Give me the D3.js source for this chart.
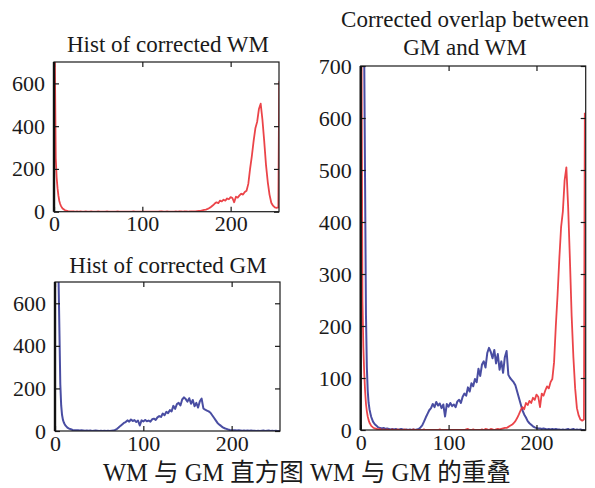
<!DOCTYPE html>
<html>
<head>
<meta charset="utf-8">
<script src="https://cdn.jsdelivr.net/npm/d3@7/dist/d3.min.js"></script>
<style>
  html, body { margin: 0; padding: 0; background: #fff; }
  svg { display: block; }
  text { font-family: "Liberation Serif", "Times New Roman", "Noto Sans CJK SC", serif; fill: #1a1a1a; }
</style>
</head>
<body>
<svg id="chart" width="595" height="488"></svg>
<script>
// Intensity levels (grey value) of the histogram bins
const levels = [
  0, 1, 2, 3, 4, 5, 6, 7, 8, 9, 10, 11, 12,
  14, 16, 18, 20, 22, 24, 26, 28, 30, 32,
  34, 36, 38, 40, 42, 44, 46, 48, 50, 52,
  54, 56, 58, 60, 62, 64, 66, 68, 70, 72,
  74, 76, 78, 80, 82, 84, 86, 88, 90, 92,
  94, 96, 98, 100, 102, 104, 106, 108, 110, 112,
  114, 116, 118, 120, 122, 124, 126, 128, 130, 132,
  134, 136, 138, 140, 142, 144, 146, 148, 150, 152,
  154, 156, 158, 160, 162, 164, 166, 168, 170, 172,
  174, 176, 178, 180, 182, 184, 186, 188, 190, 192,
  194, 196, 198, 200, 202, 204, 206, 208, 210, 212,
  214, 216, 218, 220, 222, 224, 226, 228, 230, 232,
  234, 236, 238, 240, 242, 244, 246, 248, 250, 252,
  254, 255
];

// White matter voxel counts per level
const wmCounts = [
  1500, 700, 250, 160, 110, 75, 50, 36, 26, 19, 14, 11, 8,
  5, 3, 2, 1, 2, 0, 1, 0, 1, 0,
  0, 1, 0, 0, 1, 0, 0, 0, 1, 0,
  0, 0, 0, 1, 0, 0, 0, 0, 0, 1,
  0, 0, 0, 0, 0, 0, 0, 0, 1, 0,
  0, 0, 0, 0, 0, 0, 0, 0, 0, 0,
  0, 0, 0, 1, 2, 0, 0, 1, 0, 0,
  0, 0, 1, 0, 2, 1, 0, 2, 1, 0,
  1, 2, 1, 2, 3, 4, 4, 6, 8, 10,
  13, 17, 23, 30, 38, 44, 40, 52, 48, 56,
  52, 62, 58, 68, 64, 44, 70, 66, 76, 84,
  80, 92, 98, 130, 200, 260, 330, 390, 420, 480,
  505, 430, 330, 220, 140, 80, 42, 28, 20, 18,
  20, 610
];

// Grey matter voxel counts per level
const gmCounts = [
  2400, 1800, 1300, 950, 720, 470, 220, 120, 75, 52, 40, 32, 25,
  16, 11, 8, 5, 4, 3, 4, 2, 3, 2,
  1, 2, 1, 2, 0, 1, 2, 1, 0, 1,
  0, 1, 0, 1, 0, 1, 2, 5, 9, 16,
  24, 31, 38, 42, 50, 44, 54, 47, 51, 42,
  49, 26, 50, 45, 52, 46, 49, 44, 55, 58,
  52, 64, 70, 66, 82, 74, 90, 84, 98, 92,
  118, 104, 126, 132, 120, 148, 158, 150, 138, 154,
  128, 146, 116, 132, 110, 140, 152, 106, 100, 96,
  92, 86, 74, 62, 50, 38, 30, 24, 17, 13,
  10, 7, 5, 4, 3, 3, 2, 3, 2, 1,
  2, 1, 2, 1, 2, 1, 1, 0, 1, 0,
  1, 2, 0, 1, 2, 0, 1, 0, 1, 0,
  0, 0
];

const xTicks = [0, 100, 200];
const yTicksSmall = [0, 200, 400, 600];
const yTicksLarge = [0, 100, 200, 300, 400, 500, 600, 700];

const titleWM = "Hist of corrected WM";
const titleGM = "Hist of corrected GM";
const titleOverlap = ["Corrected overlap between", "GM and WM"];
const caption = "WM 与 GM 直方图 WM 与 GM 的重叠";

const RED = "#e9343a";
const BLUE = "#3a3e9a";

const svg = d3.select("#chart");
const wm = levels.map((l, i) => ({ level: l, count: wmCounts[i] }));
const gm = levels.map((l, i) => ({ level: l, count: gmCounts[i] }));

let clipId = 0;
function drawPanel(cfg) {
  const x = d3.scaleLinear().domain(cfg.xDomain).range([cfg.left, cfg.right]);
  const y = d3.scaleLinear().domain([0, 700]).range([cfg.bottom, cfg.top]);
  const id = "clip" + (clipId++);
  svg.append("clipPath").attr("id", id)
    .append("rect")
    .attr("x", cfg.left).attr("y", cfg.top)
    .attr("width", cfg.right - cfg.left).attr("height", cfg.bottom - cfg.top);

  const line = d3.line().x(d => x(d.level)).y(d => y(d.count));
  const g = svg.append("g").attr("clip-path", `url(#${id})`);
  cfg.series.forEach(s => {
    g.append("path")
      .datum(s.data)
      .attr("d", line)
      .attr("fill", "none")
      .attr("stroke", s.color)
      .attr("stroke-width", s.width)
      .attr("stroke-linejoin", "round")
      .attr("stroke-opacity", 0.92);
  });

  const tickStyle = sel => {
    sel.attr("font-family", null).attr("font-size", null);
    sel.select(".domain").remove();
    sel.selectAll(".tick line").attr("stroke", "#1a1a1a").attr("stroke-width", 1.2);
    sel.selectAll(".tick text").attr("font-size", 22).attr("fill", "#1a1a1a");
  };

  svg.append("g").attr("transform", `translate(0,${cfg.bottom})`)
    .call(d3.axisBottom(x).tickValues(xTicks).tickSize(-5).tickPadding(4).tickFormat(d3.format("d")))
    .call(tickStyle);
  svg.append("g").attr("transform", `translate(0,${cfg.top})`)
    .call(d3.axisTop(x).tickValues(xTicks).tickSize(-5).tickFormat(""))
    .call(tickStyle);
  svg.append("g").attr("transform", `translate(${cfg.left},0)`)
    .call(d3.axisLeft(y).tickValues(cfg.yTicks).tickSize(-5).tickPadding(9).tickFormat(d3.format("d")))
    .call(tickStyle);
  svg.append("g").attr("transform", `translate(${cfg.right},0)`)
    .call(d3.axisRight(y).tickValues(cfg.yTicks).tickSize(-5).tickFormat(""))
    .call(tickStyle);

  svg.append("rect")
    .attr("x", cfg.left).attr("y", cfg.top)
    .attr("width", cfg.right - cfg.left).attr("height", cfg.bottom - cfg.top)
    .attr("fill", "none").attr("stroke", "#1a1a1a").attr("stroke-width", 1.2);
  svg.append("line")
    .attr("x1", cfg.left).attr("x2", cfg.left)
    .attr("y1", cfg.top).attr("y2", cfg.bottom)
    .attr("stroke", "#111").attr("stroke-width", 2.4);

  cfg.title.forEach((t, i) => {
    svg.append("text")
      .attr("x", cfg.titleX).attr("y", cfg.titleY + i * 28)
      .attr("text-anchor", "middle")
      .attr("font-size", 23)
      .text(t);
  });
}

drawPanel({
  left: 54, right: 279, top: 62, bottom: 211.7,
  xDomain: [0, 254.75], yTicks: yTicksSmall,
  series: [{ data: wm, color: RED, width: 1.8 }],
  title: [titleWM], titleX: 168, titleY: 52
});

drawPanel({
  left: 55, right: 280, top: 282, bottom: 431,
  xDomain: [0, 254.75], yTicks: yTicksSmall,
  series: [{ data: gm, color: BLUE, width: 2 }],
  title: [titleGM], titleX: 168, titleY: 273
});

drawPanel({
  left: 360.7, right: 585.7, top: 66, bottom: 430,
  xDomain: [0, 256], yTicks: yTicksLarge,
  series: [{ data: gm, color: BLUE, width: 2 }, { data: wm, color: RED, width: 1.8 }],
  title: titleOverlap, titleX: 465, titleY: 27
});

svg.append("text")
  .attr("x", 103).attr("y", 481)
  .attr("font-size", 24.5)
  .text(caption);
</script>
</body>
</html>
